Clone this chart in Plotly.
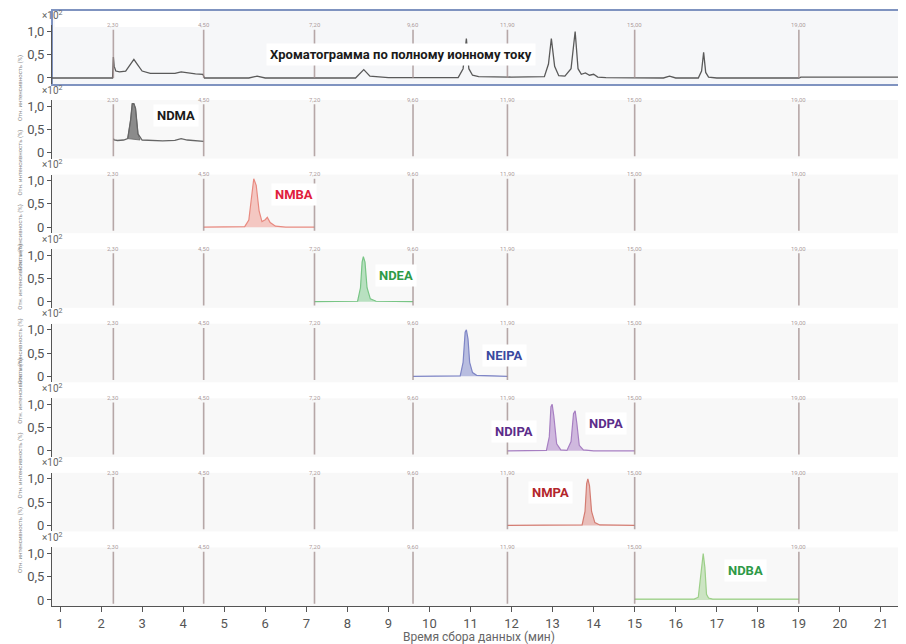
import plotly.graph_objects as go
from plotly.subplots import make_subplots

# ---------------- data ----------------
boundaries = [2.3, 4.5, 7.2, 9.6, 11.9, 15.0, 19.0]
boundary_labels = ["2,30", "4,50", "7,20", "9,60", "11,90", "15,00", "19,00"]

tic_x = [0.8, 2.28, 2.3, 2.32, 2.36, 2.45, 2.6, 2.72, 2.8, 2.88, 3.0, 3.2, 3.5, 3.8, 3.95, 4.1, 4.3,
         4.48, 4.5, 4.52, 5.0, 5.6, 5.8, 6.0, 7.0, 8.2, 8.4, 8.55, 9.0, 10.7, 10.82, 10.9, 10.96,
         11.05, 11.2, 12.0, 12.8, 12.9, 12.97, 13.05, 13.15, 13.3, 13.45, 13.55, 13.62, 13.7, 13.8,
         13.9, 14.0, 14.1, 14.3, 15.0, 15.7, 15.85, 16.0, 16.55, 16.63, 16.68, 16.73, 16.8, 17.0,
         19.0, 19.05, 21.6]
tic_y = [0.0, 0.0, 0.45, 0.25, 0.15, 0.13, 0.15, 0.3, 0.4, 0.3, 0.15, 0.1, 0.1, 0.1, 0.13, 0.11, 0.09,
         0.08, 0.02, 0.0, 0.0, 0.0, 0.04, 0.0, 0.0, 0.0, 0.18, 0.04, 0.01, 0.01, 0.2, 0.85, 0.2,
         0.06, 0.03, 0.02, 0.03, 0.3, 0.85, 0.25, 0.05, 0.04, 0.2, 1.0, 0.2, 0.08, 0.11,
         0.06, 0.08, 0.02, 0.01, 0.0, 0.0, 0.04, 0.0, 0.0, 0.15, 0.55, 0.12, 0.02, 0.0,
         0.0, 0.02, 0.02]

ndma_x = [2.3, 2.32, 2.4, 2.55, 2.65, 2.72, 2.76, 2.8, 2.84, 2.9, 3.0, 3.2, 3.5, 3.8, 3.95, 4.1, 4.3, 4.5]
ndma_y = [0.3, 0.27, 0.26, 0.27, 0.3, 0.7, 1.05, 1.05, 0.95, 0.4, 0.27, 0.26, 0.25, 0.26, 0.3, 0.27, 0.25, 0.24]
ndma_peak_x = [2.65, 2.72, 2.76, 2.8, 2.84, 2.9, 2.95, 2.65]
ndma_peak_y = [0.3, 0.7, 1.05, 1.05, 0.95, 0.4, 0.27, 0.3]

nmba_x = [4.5, 5.2, 5.5, 5.6, 5.66, 5.72, 5.78, 5.85, 5.92, 6.0, 6.05, 6.12, 6.25, 6.5, 7.2]
nmba_y = [0.0, 0.0, 0.01, 0.15, 0.6, 1.04, 0.9, 0.35, 0.12, 0.16, 0.21, 0.1, 0.02, 0.0, 0.0]

ndea_x = [7.2, 8.0, 8.25, 8.32, 8.36, 8.39, 8.43, 8.48, 8.56, 8.7, 9.6]
ndea_y = [0.0, 0.0, 0.01, 0.3, 0.85, 0.97, 0.85, 0.3, 0.06, 0.01, 0.0]

neipa_x = [9.6, 10.5, 10.75, 10.82, 10.87, 10.9, 10.94, 10.98, 11.05, 11.15, 11.9]
neipa_y = [0.0, 0.0, 0.01, 0.3, 0.95, 1.0, 0.8, 0.3, 0.08, 0.02, 0.0]

ndipa_x = [11.9, 12.6, 12.85, 12.92, 12.96, 12.99, 13.03, 13.1, 13.2, 13.35, 13.45, 13.51, 13.55,
           13.59, 13.65, 13.75, 14.0, 15.0]
ndipa_y = [0.0, 0.0, 0.01, 0.3, 0.95, 1.0, 0.75, 0.15, 0.02, 0.01, 0.2, 0.8, 0.86, 0.6, 0.12, 0.02, 0.0, 0.0]

nmpa_x = [11.9, 13.5, 13.72, 13.79, 13.83, 13.86, 13.9, 13.95, 14.03, 14.15, 15.0]
nmpa_y = [0.0, 0.0, 0.01, 0.3, 0.9, 1.0, 0.85, 0.3, 0.06, 0.01, 0.0]

ndba_x = [15.0, 16.0, 16.45, 16.55, 16.62, 16.67, 16.71, 16.75, 16.8, 16.9, 17.2, 19.0]
ndba_y = [0.02, 0.01, 0.02, 0.06, 0.6, 1.0, 0.7, 0.12, 0.04, 0.02, 0.02, 0.02]

x_ticks = list(range(1, 22))
y_ticks = [0, 0.5, 1.0]
y_ticktext = ["0", "0,5", "1,0"]

# ---------------- figure ----------------
OFF = 8                      # page body margin of the html page
W, H = 906 - OFF, 644 - OFF
ML, MR, MT = 52 - OFF, 0, 10 - OFF
PLOT_BOTTOM = 606 - OFF
MB = H - PLOT_BOTTOM
PH = H - MT - MB
PW = W - ML - MR
N = 8
PITCH = 74.57
Z0 = 78.0
YR = [-0.13, 1.13]
PX_PER = 46.5

fig = make_subplots(rows=N, cols=1, shared_xaxes=True, vertical_spacing=0.02)

def py(page_px):
    v = (H - MB - (page_px - OFF)) / PH
    return min(1.0, max(0.0, v))

def pxx(page_px):
    return (page_px - OFF - ML) / PW

zeros = [Z0 + k * PITCH for k in range(N)]
for k in range(N):
    z = zeros[k]
    top = z - YR[1] * PX_PER
    bot = z - YR[0] * PX_PER
    name = "yaxis" if k == 0 else f"yaxis{k+1}"
    fig.layout[name].domain = [py(bot), py(top)]

def ax(k):
    return ("x", "y") if k == 0 else (f"x{k+1}", f"y{k+1}")

# panel 1 frame
fig.add_shape(type="rect", xref="paper", yref="paper", x0=0, x1=1, y0=py(85), y1=py(10),
              fillcolor="#f6f7f9", line=dict(color="#7f93c0", width=2), layer="below")
fig.add_shape(type="rect", xref="paper", yref="paper", x0=pxx(55), x1=pxx(200),
              y0=py(27), y1=py(11), fillcolor="white", line=dict(width=0), layer="below")

# vertical segment lines
line_col = "rgba(160,140,140,0.75)"
for k in range(N):
    xa, ya = ax(k)
    for b, lab in zip(boundaries, boundary_labels):
        fig.add_shape(type="line", xref=xa, yref=ya, x0=b, x1=b,
                      y0=-0.08 if k > 0 else 0.0, y1=1.04,
                      line=dict(color=line_col, width=1.6))
        fig.add_annotation(x=b, y=1.03, xref=xa, yref=ya, text=lab, showarrow=False,
                           font=dict(size=6, color="rgba(150,130,130,0.8)"), yanchor="bottom")

def add_line(k, x, y, color, width=1.2, fill=None, fillcolor=None):
    fig.add_trace(go.Scatter(x=x, y=y, mode="lines", line=dict(color=color, width=width),
                             fill=fill, fillcolor=fillcolor, hoverinfo="skip", showlegend=False),
                  row=k + 1, col=1)

add_line(0, tic_x, tic_y, "#5a5a5a", 1.3)
add_line(1, ndma_peak_x, ndma_peak_y, "#666666", 0.8, "toself", "rgba(80,80,80,0.65)")
add_line(1, ndma_x, ndma_y, "#666666", 1.3)
add_line(2, nmba_x, nmba_y, "#e88a80", 1.2, "tozeroy", "rgba(240,140,128,0.45)")
add_line(3, ndea_x, ndea_y, "#78c585", 1.2, "tozeroy", "rgba(120,200,135,0.5)")
add_line(4, neipa_x, neipa_y, "#7f86c6", 1.2, "tozeroy", "rgba(120,130,200,0.5)")
add_line(5, ndipa_x, ndipa_y, "#a77fc2", 1.2, "tozeroy", "rgba(165,120,195,0.5)")
add_line(6, nmpa_x, nmpa_y, "#d47c72", 1.2, "tozeroy", "rgba(215,120,110,0.45)")
add_line(7, ndba_x, ndba_y, "#9ccf88", 1.2, "tozeroy", "rgba(150,205,130,0.45)")

# compound labels
labels = [
    (0, 9.31, 0.5, "Хроматограмма по полному ионному току", "#1a1a1a"),
    (1, 3.83, 0.79, "NDMA", "#1a1a1a"),
    (2, 6.70, 0.70, "NMBA", "#e0203c"),
    (3, 9.19, 0.57, "NDEA", "#2e9a47"),
    (4, 11.82, 0.45, "NEIPA", "#3b4aa0"),
    (5, 12.06, 0.42, "NDIPA", "#5b2d8a"),
    (5, 14.30, 0.58, "NDPA", "#5b2d8a"),
    (6, 12.96, 0.70, "NMPA", "#b3262b"),
    (7, 17.71, 0.64, "NDBA", "#2e9a47"),
]
for k, x, y, t, c in labels:
    xa, ya = ax(k)
    fig.add_annotation(x=x, y=y, xref=xa, yref=ya, text=f"<b>{t}</b>", showarrow=False,
                       font=dict(family="Roboto", size=13, color=c), bgcolor="white", borderpad=3)

# y-axis decorations per panel
for k in range(N):
    z = zeros[k]
    fig.add_annotation(xref="paper", yref="paper", x=pxx(40), y=py(z - 63),
                       text="×10<sup>2</sup>", showarrow=False, yanchor="middle",
                       font=dict(family="Roboto", size=10, color="#666"))
    fig.add_annotation(xref="paper", yref="paper", x=pxx(14), y=py(z - 25),
                       text="Отн. интенсивность (%)", showarrow=False, textangle=-90,
                       font=dict(family="Roboto", size=6, color="#888"))

for k in range(N):
    name = "yaxis" if k == 0 else f"yaxis{k+1}"
    fig.layout[name].update(range=YR, tickvals=y_ticks, ticktext=y_ticktext, ticks="outside",
                            ticklen=4, tickcolor="#555", showline=True, linecolor="#555",
                            linewidth=1.2, showgrid=False, zeroline=False, automargin=False,
                            tickfont=dict(family="Roboto", size=13, color="#555"))
    xname = "xaxis" if k == 0 else f"xaxis{k+1}"
    bottom = (k == N - 1)
    fig.layout[xname].update(range=[0.805, 21.61], showgrid=False, zeroline=False,
                             showticklabels=bottom, tickvals=x_ticks, automargin=False,
                             ticks="outside" if bottom else "", ticklen=5, tickcolor="#555",
                             showline=bottom, linecolor="#555", linewidth=1.2,
                             tickfont=dict(family="Roboto", size=13, color="#555"))
    fig.layout[xname].domain = [0, 1]

fig.layout["xaxis8"].title = dict(text="Время сбора данных (мин)",
                                  font=dict(family="Roboto", size=12, color="#666"), standoff=2)

fig.update_layout(width=W, height=H, margin=dict(l=ML, r=MR, t=MT, b=MB, pad=0),
                  paper_bgcolor="white", plot_bgcolor="#f8f8f8",
                  font=dict(family="Roboto"))

fig.write_html("out.html")
